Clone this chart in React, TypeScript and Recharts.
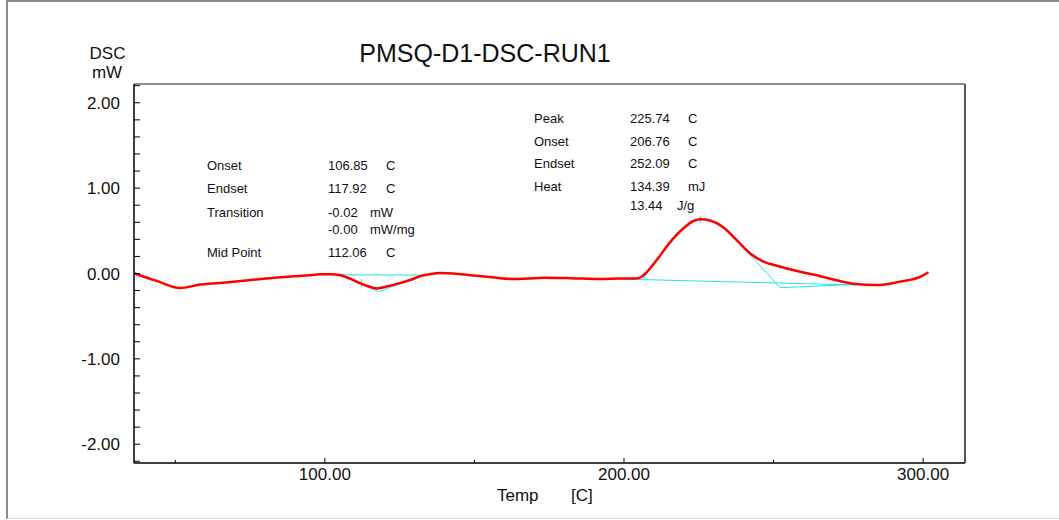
import { ComposedChart, Line, XAxis, YAxis, ReferenceLine } from "recharts";

// DSC trace (temperature in C, heat flow in mW)
const curveTemp = [
  36.4, 44, 51.5, 58.5, 68.5, 78.5, 88.5, 95.2, 98.6, 102, 105.2, 108.5, 111.9,
  115, 117.5, 121, 125.3, 129, 132, 135.5, 138.6, 143, 148.7, 156, 163, 168,
  173, 182, 192, 198.8, 203.4, 205.5, 207.7, 211.0, 215.5, 219.9, 223.2, 225.5,
  228.8, 233.3, 237.7, 242.2, 246.6, 251.1, 258.9, 264.5, 270.0, 276.7, 284.5,
  292.3, 299.0, 301.8,
];
const curveDsc = [
  0.0, -0.09, -0.17, -0.13, -0.1, -0.065, -0.035, -0.02, -0.01, -0.01, -0.02,
  -0.06, -0.115, -0.155, -0.175, -0.15, -0.11, -0.07, -0.03, -0.005, 0.005, 0.0,
  -0.02, -0.045, -0.065, -0.06, -0.05, -0.055, -0.065, -0.06, -0.06, -0.045,
  0.02, 0.16, 0.37, 0.53, 0.615, 0.635, 0.62, 0.54, 0.39, 0.235, 0.14, 0.09,
  0.02, -0.02, -0.07, -0.12, -0.135, -0.095, -0.04, 0.015,
];

// analysis construction lines
const glassBaseline = [
  { t: 98.6, v: -0.012 },
  { t: 133.0, v: -0.02 },
];
const glassTangents = [
  { t: 105.2, v: -0.02 },
  { t: 118.0, v: -0.213 },
  { t: 133.0, v: -0.02 },
];
const glassMidMark = [
  { t: 112.2, v: -0.065 },
  { t: 112.2, v: -0.16 },
];
const peakBaseline = [
  { t: 199.1, v: -0.065 },
  { t: 277.8, v: -0.135 },
];
const peakOnsetTangent = [
  { t: 206.4, v: -0.065 },
  { t: 210.4, v: 0.14 },
];
const peakEndsetTangent = [
  { t: 236.6, v: 0.43 },
  { t: 252.2, v: -0.166 },
  { t: 277.8, v: -0.127 },
];
const peakMark = [
  { t: 225.5, v: 0.67 },
  { t: 225.5, v: 0.59 },
];

const xDomain = [36.2, 314];
const yDomain = [-2.22, 2.22];
const xTicks = [50, 100, 150, 200, 250, 300];
const xLabelled = [100, 200, 300];
const yTicks = [
  -2.2, -2.0, -1.8, -1.6, -1.4, -1.2, -1.0, -0.8, -0.6, -0.4, -0.2, 0, 0.2, 0.4,
  0.6, 0.8, 1.0, 1.2, 1.4, 1.6, 1.8, 2.0, 2.2,
];
const yLabelled = [-2, -1, 0, 1, 2];

const glassInfo = [
  ["Onset", "106.85", "C"],
  ["Endset", "117.92", "C"],
  ["Transition", "-0.02", "mW"],
  ["", "-0.00", "mW/mg"],
  ["Mid Point", "112.06", "C"],
];
const peakInfo = [
  ["Peak", "225.74", "C"],
  ["Onset", "206.76", "C"],
  ["Endset", "252.09", "C"],
  ["Heat", "134.39", "mJ"],
  ["", "13.44", "J/g"],
];

const FONT = "'Liberation Sans', Arial, sans-serif";
const CYAN = "#22e4e4";

const curve = curveTemp.map((t, i) => ({ t, v: curveDsc[i] }));

function XTick(props: any) {
  const { x, y, payload } = props;
  const major = xLabelled.includes(payload.value);
  return (
    <g>
      <line x1={x} x2={x} y1={y} y2={y - (major ? 5 : 3)} stroke="#000" />
      {major && (
        <text x={x} y={y + 16.5} textAnchor="middle" fontSize={17} fontFamily={FONT} fill="#111">
          {payload.value.toFixed(2)}
        </text>
      )}
    </g>
  );
}

function YTick(props: any) {
  const { x, y, payload } = props;
  const major = yLabelled.some((m) => Math.abs(m - payload.value) < 1e-6);
  return (
    <g>
      <line x1={x} x2={x + 6} y1={y} y2={y} stroke="#000" />
      {major && (
        <text x={x - 14} y={y + 6} textAnchor="end" fontSize={17} fontFamily={FONT} fill="#111">
          {payload.value.toFixed(2)}
        </text>
      )}
    </g>
  );
}

function InfoBlock({
  rows,
  x,
  valueX,
  unitXs,
  ys,
}: {
  rows: string[][];
  x: number;
  valueX: number;
  unitXs: number[];
  ys: number[];
}) {
  return (
    <g fontFamily={FONT} fontSize={13} fill="#111">
      {rows.map((r, i) => (
        <g key={i}>
          {r[0] && (
            <text x={x} y={ys[i]}>
              {r[0]}
            </text>
          )}
          <text x={valueX} y={ys[i]}>
            {r[1]}
          </text>
          <text x={unitXs[i]} y={ys[i]}>
            {r[2]}
          </text>
        </g>
      ))}
    </g>
  );
}

const seg = (data: { t: number; v: number }[], key: string) => (
  <Line
    key={key}
    data={data}
    dataKey="v"
    type="linear"
    stroke={CYAN}
    strokeWidth={1}
    dot={false}
    activeDot={false}
    isAnimationActive={false}
  />
);

export default function App() {
  return (
    <div
      style={{
        position: "absolute",
        left: 0,
        top: 0,
        width: 1059,
        height: 520,
        background: "#fff",
        overflow: "hidden",
      }}
    >
      <div
        style={{
          position: "absolute",
          left: 6,
          top: 0,
          width: 1100,
          height: 516,
          borderTop: "2px solid #8c8c8c",
          borderLeft: "2px solid #8c8c8c",
          borderBottom: "1px solid #dcdcdc",
        }}
      />
      <div style={{ position: "absolute", left: 0, top: 0 }}>
        <ComposedChart
          width={1059}
          height={520}
          margin={{ top: 84, right: 94, bottom: 17, left: 74 }}
        >
          <XAxis
            dataKey="t"
            type="number"
            domain={xDomain}
            ticks={xTicks}
            interval={0}
            tickSize={0}
            tickMargin={0}
            tick={<XTick />}
            axisLine={{ stroke: "#000", strokeWidth: 1.5 }}
            allowDataOverflow
            height={40}
          />
          <YAxis
            type="number"
            domain={yDomain}
            ticks={yTicks}
            interval={0}
            tickSize={0}
            tickMargin={0}
            tick={<YTick />}
            axisLine={{ stroke: "#000", strokeWidth: 1.5 }}
            allowDataOverflow
            width={60}
          />
          {/* frame: grey top edge, dark right edge */}
          <ReferenceLine y={yDomain[1]} stroke="#8c8c8c" strokeWidth={2} ifOverflow="visible" />
          <ReferenceLine x={xDomain[1]} stroke="#555" strokeWidth={2} ifOverflow="visible" />
          {seg(glassBaseline, "gb")}
          {seg(glassTangents, "gt")}
          {seg(glassMidMark, "gm")}
          {seg(peakBaseline, "pb")}
          {seg(peakOnsetTangent, "po")}
          {seg(peakEndsetTangent, "pe")}
          {seg(peakMark, "pm")}
          <Line
            data={curve}
            dataKey="v"
            type="monotone"
            stroke="#ff0000"
            strokeWidth={2.5}
            dot={false}
            activeDot={false}
            isAnimationActive={false}
          />
        </ComposedChart>
      </div>
      <svg
        width={1059}
        height={520}
        style={{ position: "absolute", left: 0, top: 0, pointerEvents: "none" }}
      >
        <text x={485} y={62} textAnchor="middle" fontSize={25} fontFamily={FONT} fill="#111">
          PMSQ-D1-DSC-RUN1
        </text>
        <text x={107.5} y={59} textAnchor="middle" fontSize={17} fontFamily={FONT} fill="#111">
          DSC
        </text>
        <text x={107} y={78} textAnchor="middle" fontSize={17} fontFamily={FONT} fill="#111">
          mW
        </text>
        <text x={497} y={501} fontSize={17} fontFamily={FONT} fill="#111">
          Temp
        </text>
        <text x={571} y={501} fontSize={17} fontFamily={FONT} fill="#111">
          [C]
        </text>
        <InfoBlock
          rows={glassInfo}
          x={207}
          valueX={328}
          unitXs={[386, 386, 370, 370, 386]}
          ys={[170, 193, 217, 234, 257]}
        />
        <InfoBlock
          rows={peakInfo}
          x={534}
          valueX={630}
          unitXs={[688, 688, 688, 688, 677]}
          ys={[123, 146, 168, 191, 210]}
        />
      </svg>
    </div>
  );
}
